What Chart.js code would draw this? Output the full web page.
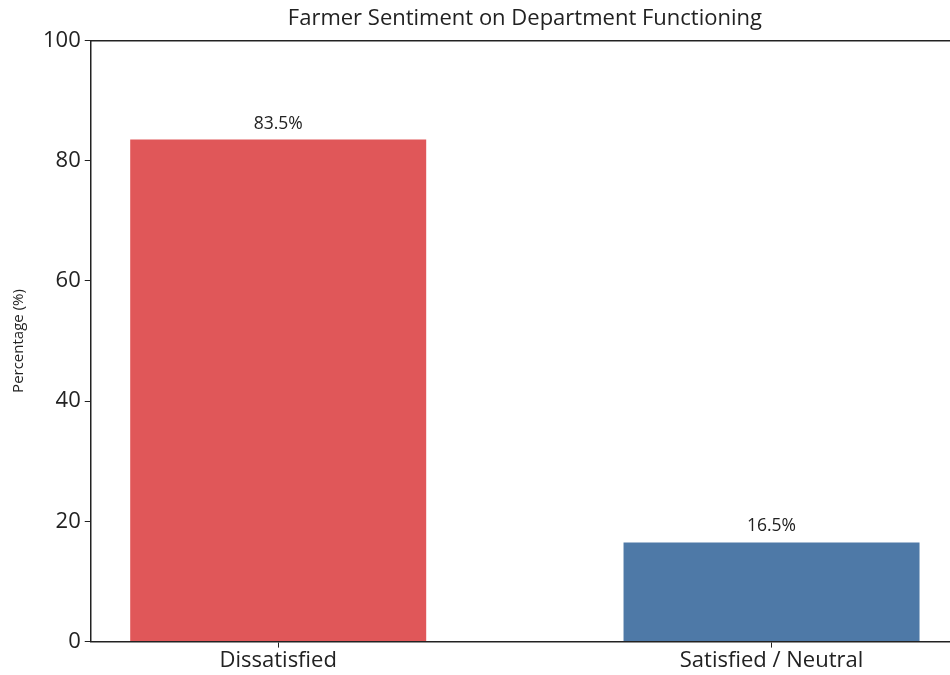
<!DOCTYPE html>
<html>
<head>
<meta charset="utf-8">
<script src="https://cdn.jsdelivr.net/npm/chart.js@4"></script>
<style>
  html, body { margin: 0; padding: 0; background: #fff; overflow: hidden; }
  #wrap { width: 950px; height: 675px; overflow: hidden; }
  #inner { width: 975px; height: 675px; }
</style>
</head>
<body>
<div id="wrap"><div id="inner"><canvas id="chart"></canvas></div></div>
<script>
const categories = ['Dissatisfied', 'Satisfied / Neutral'];
const percentages = [83.5, 16.5];
const barColors = ['#E05759', '#4E79A7'];
const yTicks = [0, 20, 40, 60, 80, 100];

const FONT = '"Open Sans", sans-serif';

// value labels above each bar
const valueLabels = {
  id: 'valueLabels',
  afterDatasetsDraw(chart) {
    const ctx = chart.ctx;
    const meta = chart.getDatasetMeta(0);
    ctx.save();
    ctx.font = '17.5px ' + FONT;
    ctx.fillStyle = '#222';
    ctx.textAlign = 'center';
    ctx.textBaseline = 'alphabetic';
    meta.data.forEach((bar, i) => {
      ctx.fillText(percentages[i].toFixed(1) + '%', bar.x, bar.y - 11);
    });
    ctx.restore();
  }
};

new Chart(document.getElementById('chart'), {
  type: 'bar',
  data: {
    datasets: [{
      data: categories.map((c, i) => ({ x: i, y: percentages[i] })),
      backgroundColor: barColors,
      categoryPercentage: 1,
      barPercentage: 0.6
    }]
  },
  options: {
    responsive: true,
    maintainAspectRatio: false,
    animation: false,
    layout: { padding: { left: 10, right: 16, top: 0, bottom: 1 } },
    plugins: {
      legend: { display: false },
      tooltip: { enabled: false },
      title: {
        display: true,
        fullSize: false,
        text: 'Farmer Sentiment on Department Functioning',
        color: '#222',
        font: { family: FONT, size: 22, weight: 'normal' },
        padding: { top: 6, bottom: 0 }
      }
    },
    scales: {
      x: {
        type: 'linear',
        min: -0.38,
        max: 1.38,
        offset: false,
        afterBuildTicks(axis) {
          axis.ticks = categories.map((c, i) => ({ value: i }));
        },
        ticks: {
          callback: (v) => categories[v],
          color: '#222',
          font: { family: FONT, size: 22 },
          padding: 0,
          maxRotation: 0
        },
        grid: { offset: false, drawOnChartArea: false, tickLength: 6, tickColor: '#222' },
        border: { color: '#222', width: 1.5 }
      },
      xTop: {
        type: 'linear',
        position: 'top',
        min: -0.38,
        max: 1.38,
        offset: false,
        ticks: { display: false },
        grid: { display: false },
        border: { color: '#222', width: 1.5 }
      },
      y: {
        min: 0,
        max: 100,
        afterBuildTicks(axis) {
          axis.ticks = yTicks.map(v => ({ value: v }));
        },
        ticks: {
          color: '#222',
          font: { family: FONT, size: 22 },
          padding: 4
        },
        grid: { drawOnChartArea: false, tickLength: 6, tickColor: '#222' },
        border: { color: '#222', width: 1.5 },
        title: {
          display: true,
          text: 'Percentage (%)',
          color: '#222',
          font: { family: FONT, size: 15 },
          padding: { top: 0, bottom: 11 }
        }
      }
    }
  },
  plugins: [valueLabels]
});
</script>
</body>
</html>
